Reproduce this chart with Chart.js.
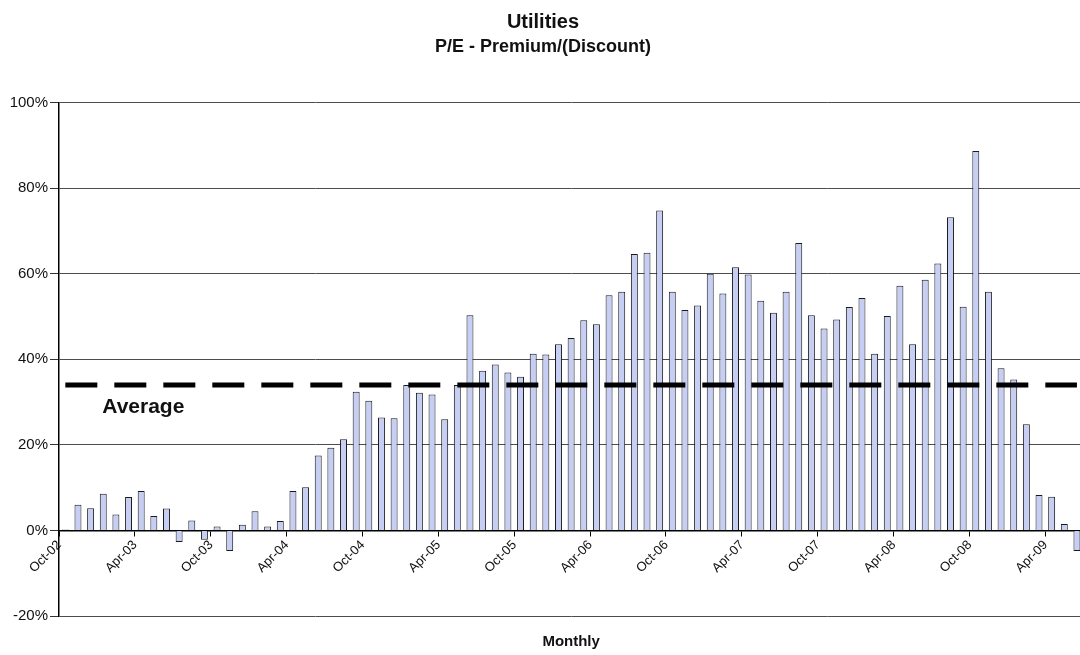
<!DOCTYPE html>
<html>
<head>
<meta charset="utf-8">
<script src="https://cdn.jsdelivr.net/npm/chart.js@4.4.1/dist/chart.umd.min.js"></script>
<style>
  html, body { margin: 0; padding: 0; background: #fff; overflow: hidden; }
  #wrap { width: 1090px; height: 655px; }
</style>
</head>
<body>
<div id="wrap"><canvas id="peChart"></canvas></div>
<script>
// Monthly categories, Oct-02 .. Jun-09
const months = [
    'Oct-02', 'Nov-02', 'Dec-02',
    'Jan-03', 'Feb-03', 'Mar-03', 'Apr-03', 'May-03', 'Jun-03', 'Jul-03', 'Aug-03', 'Sep-03', 'Oct-03', 'Nov-03', 'Dec-03',
    'Jan-04', 'Feb-04', 'Mar-04', 'Apr-04', 'May-04', 'Jun-04', 'Jul-04', 'Aug-04', 'Sep-04', 'Oct-04', 'Nov-04', 'Dec-04',
    'Jan-05', 'Feb-05', 'Mar-05', 'Apr-05', 'May-05', 'Jun-05', 'Jul-05', 'Aug-05', 'Sep-05', 'Oct-05', 'Nov-05', 'Dec-05',
    'Jan-06', 'Feb-06', 'Mar-06', 'Apr-06', 'May-06', 'Jun-06', 'Jul-06', 'Aug-06', 'Sep-06', 'Oct-06', 'Nov-06', 'Dec-06',
    'Jan-07', 'Feb-07', 'Mar-07', 'Apr-07', 'May-07', 'Jun-07', 'Jul-07', 'Aug-07', 'Sep-07', 'Oct-07', 'Nov-07', 'Dec-07',
    'Jan-08', 'Feb-08', 'Mar-08', 'Apr-08', 'May-08', 'Jun-08', 'Jul-08', 'Aug-08', 'Sep-08', 'Oct-08', 'Nov-08', 'Dec-08',
    'Jan-09', 'Feb-09', 'Mar-09', 'Apr-09', 'May-09', 'Jun-09'
];

// P/E premium / (discount), percent
const premium = [
    0.2, 6.0, 5.2,
    8.6, 3.7, 7.8, 9.2, 3.4, 5.1, -2.7, 2.3, -2.2, 0.9, -4.8, 1.3,
    4.5, 0.9, 2.2, 9.2, 10.1, 17.5, 19.3, 21.3, 32.4, 30.3, 26.4, 26.2,
    34.0, 32.2, 31.8, 26.0, 34.0, 50.3, 37.3, 38.8, 36.9, 35.9, 41.3, 41.1,
    43.5, 45.0, 49.1, 48.2, 55.0, 55.8, 64.6, 64.9, 74.8, 55.8, 51.5, 52.6,
    60.0, 55.4, 61.5, 59.8, 53.7, 50.9, 55.8, 67.2, 50.3, 47.2, 49.3, 52.2,
    54.3, 41.3, 50.1, 57.2, 43.5, 58.6, 62.4, 73.2, 52.3, 88.7, 55.8, 37.9,
    35.3, 24.8, 8.3, 7.9, 1.5, -4.8
];

const average = 34.0;
const yTicks = [-20, 0, 20, 40, 60, 80, 100];

Chart.defaults.font.family = '"Liberation Sans", Arial, sans-serif';
Chart.defaults.color = '#111';

// "Average" caption and the "Monthly" axis title
const extraText = {
    id: 'extraText',
    afterDraw(chart) {
        const { ctx, chartArea, scales } = chart;
        ctx.save();
        ctx.fillStyle = '#111';
        ctx.textBaseline = 'middle';
        ctx.font = 'bold 21px "Liberation Sans", Arial, sans-serif';
        ctx.textAlign = 'left';
        ctx.fillText('Average', scales.x.getPixelForValue(3) - 1, scales.y.getPixelForValue(average) + 22);
        ctx.font = 'bold 15px "Liberation Sans", Arial, sans-serif';
        ctx.textAlign = 'center';
        ctx.fillText('Monthly', (chartArea.left + chartArea.right) / 2, chartArea.bottom + 26);
        ctx.restore();
    }
};

new Chart(document.getElementById('peChart').getContext('2d'), {
    type: 'bar',
    data: {
        labels: months,
        datasets: [{
            type: 'line',
            label: 'Average',
            data: months.map(() => average),
            borderColor: '#000',
            borderWidth: 5,
            borderDash: [32, 17],
            pointRadius: 0,
            order: 0
        }, {
            label: 'P/E Premium/(Discount)',
            data: premium,
            backgroundColor: '#c6cef4',
            borderColor: '#1a1a1a',
            borderWidth: 1,
            barPercentage: 0.55,
            categoryPercentage: 1,
            order: 1
        }]
    },
    options: {
        responsive: true,
        maintainAspectRatio: false,
        animation: false,
        layout: { padding: { left: 0, right: 4, top: 0, bottom: 39 } },
        plugins: {
            legend: { display: false },
            tooltip: { enabled: false },
            title: {
                display: true,
                text: 'Utilities',
                color: '#111',
                font: { size: 20, weight: 'bold' },
                padding: { top: 10, bottom: 0 }
            },
            subtitle: {
                display: true,
                text: 'P/E - Premium/(Discount)',
                color: '#111',
                font: { size: 18, weight: 'bold' },
                padding: { top: 2, bottom: 45 }
            }
        },
        scales: {
            x: {
                position: { y: 0 },
                offset: true,
                afterFit: (scale) => { scale.height = 0; },
                grid: {
                    offset: true,
                    drawOnChartArea: false,
                    drawTicks: true,
                    tickLength: 5,
                    tickColor: (ctx) => ctx.index % 6 === 0 ? '#000' : 'rgba(0,0,0,0)',
                    color: 'rgba(0,0,0,0)'
                },
                border: { color: '#000', width: 1.5 },
                ticks: {
                    autoSkip: false,
                    maxRotation: 45,
                    minRotation: 45,
                    padding: 2,
                    labelOffset: -6,
                    color: '#111',
                    font: { size: 13 },
                    callback: function (value, index) {
                        return index % 6 === 0 ? months[index] : '';
                    }
                }
            },
            y: {
                min: -20,
                max: 100,
                afterFit: (scale) => { scale.width = 59; },
                afterBuildTicks: (scale) => { scale.ticks = yTicks.map(v => ({ value: v })); },
                grid: {
                    color: (ctx) => ctx.tick && ctx.tick.value === 0 ? '#000' : '#4d4d4d',
                    tickColor: '#333',
                    tickLength: 9,
                    lineWidth: 1
                },
                border: { color: '#000', width: 1.5 },
                ticks: {
                    padding: 2,
                    color: '#111',
                    font: { size: 15 },
                    callback: (v) => v + '%'
                }
            }
        }
    },
    plugins: [extraText]
});
</script>
</body>
</html>
